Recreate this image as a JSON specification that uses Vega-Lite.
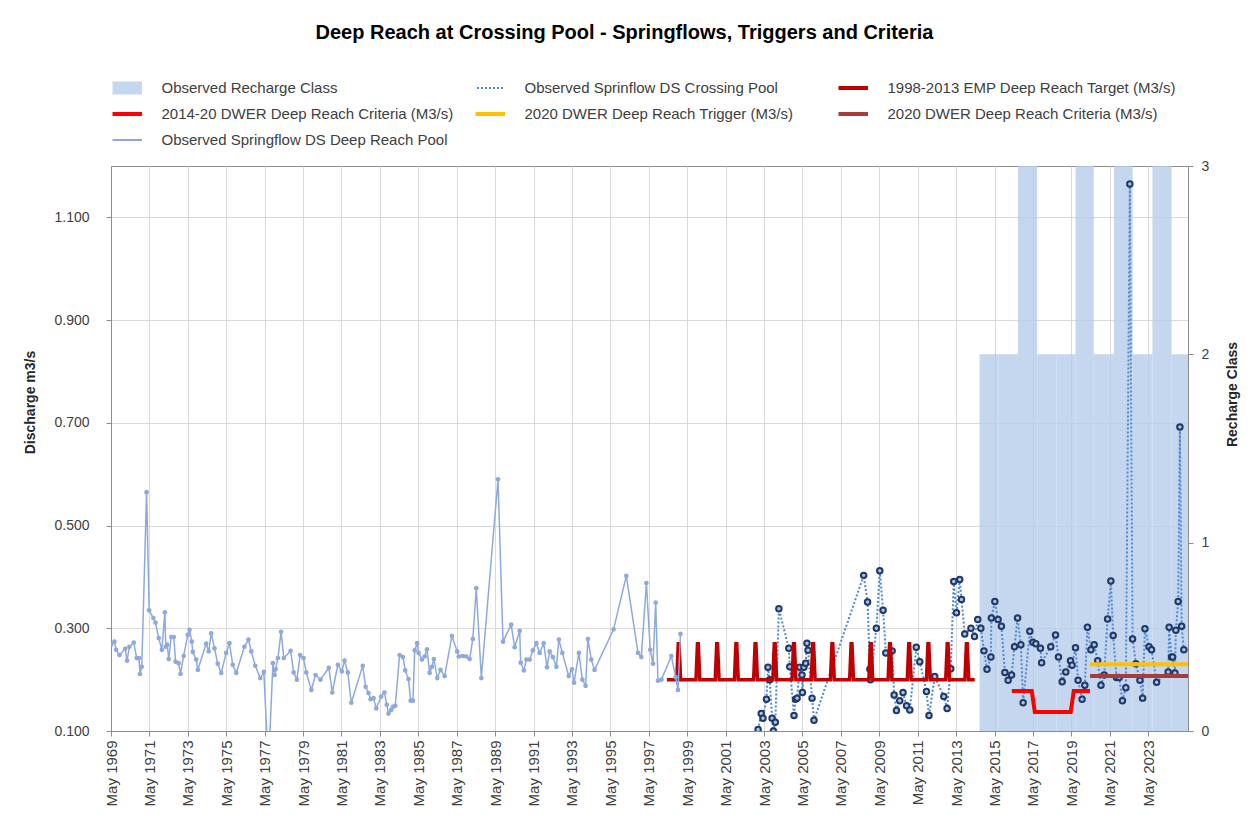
{
"$schema":"https://vega.github.io/schema/vega-lite/v6.json",
"width":1077,"height":565,
"autosize":{"type":"none"},
"padding":{"left":111,"top":166,"right":65,"bottom":87},
"background":"white",
"config":{
 "font":"Liberation Sans",
 "view":{"stroke":"#8C8C8C","strokeWidth":1},
 "axis":{"labelFont":"Liberation Sans","titleFont":"Liberation Sans","labelColor":"#404040","titleColor":"#262626","gridColor":"#D9D9D9","domainColor":"#8C8C8C","tickColor":"#8C8C8C","labelFontSize":14,"titleFontSize":14,"titleFontWeight":"bold"},
 "legend":{"labelFont":"Liberation Sans"}
},
"title":{"text":"Deep Reach at Crossing Pool - Springflows, Triggers and Criteria","fontSize":20,"fontWeight":"bold","color":"#000000","anchor":"middle","dx":-25,"dy":-33,"font":"Liberation Sans"},
"datasets":{
"recharge":[
{"series":"RC","start":"2014-07-20","end":"2015-07-20","cls":2},
{"series":"RC","start":"2015-07-20","end":"2016-07-20","cls":2},
{"series":"RC","start":"2016-07-20","end":"2017-07-20","cls":3},
{"series":"RC","start":"2017-07-20","end":"2018-07-20","cls":2},
{"series":"RC","start":"2018-07-20","end":"2019-07-20","cls":2},
{"series":"RC","start":"2019-07-20","end":"2020-07-01","cls":3},
{"series":"RC","start":"2020-07-01","end":"2021-07-20","cls":2},
{"series":"RC","start":"2021-07-20","end":"2022-07-10","cls":3},
{"series":"RC","start":"2022-07-10","end":"2023-07-20","cls":2},
{"series":"RC","start":"2023-07-20","end":"2024-07-20","cls":3},
{"series":"RC","start":"2024-07-20","end":"2025-07-20","cls":2}
],
"flow":[
{"series":"DR","date":"1969-05-01","value":0.268},{"series":"DR","date":"1969-07-04","value":0.274},{"series":"DR","date":"1969-08-07","value":0.258},{"series":"DR","date":"1969-10-09","value":0.248},
{"series":"DR","date":"1970-01-26","value":0.26},{"series":"DR","date":"1970-03-02","value":0.237},{"series":"DR","date":"1970-04-15","value":0.264},{"series":"DR","date":"1970-07-08","value":0.272},
{"series":"DR","date":"1970-09-02","value":0.242},{"series":"DR","date":"1970-10-15","value":0.242},{"series":"DR","date":"1970-11-02","value":0.211},{"series":"DR","date":"1970-12-07","value":0.225},
{"series":"DR","date":"1971-03-09","value":0.565},{"series":"DR","date":"1971-04-26","value":0.335},{"series":"DR","date":"1971-07-15","value":0.32},{"series":"DR","date":"1971-08-25","value":0.311},
{"series":"DR","date":"1971-10-26","value":0.281},{"series":"DR","date":"1971-12-24","value":0.258},{"series":"DR","date":"1972-02-19","value":0.331},{"series":"DR","date":"1972-03-07","value":0.264},
{"series":"DR","date":"1972-04-04","value":0.268},{"series":"DR","date":"1972-05-03","value":0.24},{"series":"DR","date":"1972-06-20","value":0.283},{"series":"DR","date":"1972-08-07","value":0.283},
{"series":"DR","date":"1972-09-09","value":0.235},{"series":"DR","date":"1972-11-07","value":0.232},{"series":"DR","date":"1972-12-13","value":0.211},{"series":"DR","date":"1973-02-10","value":0.246},
{"series":"DR","date":"1973-04-30","value":0.287},{"series":"DR","date":"1973-06-02","value":0.297},{"series":"DR","date":"1973-07-15","value":0.274},{"series":"DR","date":"1973-08-03","value":0.254},
{"series":"DR","date":"1973-10-08","value":0.239},{"series":"DR","date":"1973-11-07","value":0.219},{"series":"DR","date":"1974-04-15","value":0.27},{"series":"DR","date":"1974-06-02","value":0.255},
{"series":"DR","date":"1974-07-19","value":0.29},{"series":"DR","date":"1974-09-20","value":0.261},{"series":"DR","date":"1974-11-21","value":0.231},{"series":"DR","date":"1975-01-26","value":0.213},
{"series":"DR","date":"1975-04-30","value":0.252},{"series":"DR","date":"1975-07-01","value":0.271},{"series":"DR","date":"1975-09-02","value":0.229},{"series":"DR","date":"1975-11-07","value":0.213},
{"series":"DR","date":"1976-04-11","value":0.264},{"series":"DR","date":"1976-06-27","value":0.278},{"series":"DR","date":"1976-08-18","value":0.255},{"series":"DR","date":"1976-11-03","value":0.227},
{"series":"DR","date":"1977-02-07","value":0.203},{"series":"DR","date":"1977-04-15","value":0.215},{"series":"DR","date":"1977-07-12","value":0.03},{"series":"DR","date":"1977-10-05","value":0.232},
{"series":"DR","date":"1977-11-07","value":0.209},{"series":"DR","date":"1977-11-25","value":0.22},{"series":"DR","date":"1978-01-08","value":0.242},{"series":"DR","date":"1978-03-09","value":0.293},
{"series":"DR","date":"1978-04-30","value":0.242},{"series":"DR","date":"1978-09-06","value":0.256},{"series":"DR","date":"1978-11-03","value":0.214},{"series":"DR","date":"1979-01-04","value":0.2},
{"series":"DR","date":"1979-03-06","value":0.248},{"series":"DR","date":"1979-05-10","value":0.242},{"series":"DR","date":"1979-07-01","value":0.214},{"series":"DR","date":"1979-10-05","value":0.18},
{"series":"DR","date":"1979-12-24","value":0.209},{"series":"DR","date":"1980-03-27","value":0.2},{"series":"DR","date":"1980-09-02","value":0.223},{"series":"DR","date":"1980-11-07","value":0.175},
{"series":"DR","date":"1981-02-21","value":0.229},{"series":"DR","date":"1981-05-07","value":0.216},{"series":"DR","date":"1981-06-27","value":0.237},{"series":"DR","date":"1981-08-29","value":0.214},
{"series":"DR","date":"1981-11-03","value":0.155},{"series":"DR","date":"1982-06-09","value":0.227},{"series":"DR","date":"1982-08-03","value":0.186},{"series":"DR","date":"1982-09-27","value":0.174},
{"series":"DR","date":"1982-11-07","value":0.162},{"series":"DR","date":"1983-01-01","value":0.164},{"series":"DR","date":"1983-02-21","value":0.144},{"series":"DR","date":"1983-05-25","value":0.167},
{"series":"DR","date":"1983-07-26","value":0.175},{"series":"DR","date":"1983-09-09","value":0.151},{"series":"DR","date":"1983-10-12","value":0.134},{"series":"DR","date":"1983-12-02","value":0.141},
{"series":"DR","date":"1984-01-04","value":0.147},{"series":"DR","date":"1984-02-17","value":0.149},{"series":"DR","date":"1984-05-10","value":0.248},{"series":"DR","date":"1984-07-12","value":0.244},
{"series":"DR","date":"1984-08-25","value":0.218},{"series":"DR","date":"1984-10-26","value":0.201},{"series":"DR","date":"1984-12-06","value":0.159},{"series":"DR","date":"1985-01-19","value":0.159},
{"series":"DR","date":"1985-02-21","value":0.257},{"series":"DR","date":"1985-04-08","value":0.271},{"series":"DR","date":"1985-05-07","value":0.252},{"series":"DR","date":"1985-07-08","value":0.239},
{"series":"DR","date":"1985-08-29","value":0.245},{"series":"DR","date":"1985-10-12","value":0.259},{"series":"DR","date":"1985-12-02","value":0.213},{"series":"DR","date":"1986-01-15","value":0.225},
{"series":"DR","date":"1986-02-21","value":0.24},{"series":"DR","date":"1986-04-26","value":0.203},{"series":"DR","date":"1986-06-27","value":0.219},{"series":"DR","date":"1986-09-13","value":0.207},
{"series":"DR","date":"1987-01-30","value":0.285},{"series":"DR","date":"1987-05-10","value":0.255},{"series":"DR","date":"1987-06-09","value":0.245},{"series":"DR","date":"1987-08-25","value":0.246},
{"series":"DR","date":"1987-10-30","value":0.245},{"series":"DR","date":"1988-01-01","value":0.24},{"series":"DR","date":"1988-03-02","value":0.279},{"series":"DR","date":"1988-05-07","value":0.378},
{"series":"DR","date":"1988-08-11","value":0.203},{"series":"DR","date":"1989-06-24","value":0.59},{"series":"DR","date":"1989-09-27","value":0.274},{"series":"DR","date":"1990-03-02","value":0.307},
{"series":"DR","date":"1990-05-07","value":0.263},{"series":"DR","date":"1990-08-11","value":0.295},{"series":"DR","date":"1990-08-29","value":0.233},{"series":"DR","date":"1990-10-30","value":0.218},
{"series":"DR","date":"1990-12-16","value":0.239},{"series":"DR","date":"1991-02-17","value":0.239},{"series":"DR","date":"1991-04-19","value":0.257},{"series":"DR","date":"1991-06-24","value":0.271},
{"series":"DR","date":"1991-08-25","value":0.252},{"series":"DR","date":"1991-11-10","value":0.271},{"series":"DR","date":"1992-01-12","value":0.224},{"series":"DR","date":"1992-03-02","value":0.255},
{"series":"DR","date":"1992-05-03","value":0.244},{"series":"DR","date":"1992-07-08","value":0.225},{"series":"DR","date":"1992-08-25","value":0.278},{"series":"DR","date":"1992-10-30","value":0.252},
{"series":"DR","date":"1993-02-28","value":0.207},{"series":"DR","date":"1993-04-30","value":0.22},{"series":"DR","date":"1993-06-09","value":0.194},{"series":"DR","date":"1993-09-09","value":0.252},
{"series":"DR","date":"1993-11-14","value":0.2},{"series":"DR","date":"1994-01-15","value":0.188},{"series":"DR","date":"1994-02-28","value":0.279},{"series":"DR","date":"1994-05-03","value":0.239},
{"series":"DR","date":"1994-07-04","value":0.219},{"series":"DR","date":"1995-07-01","value":0.298},{"series":"DR","date":"1996-02-28","value":0.402},{"series":"DR","date":"1996-10-08","value":0.252},
{"series":"DR","date":"1996-12-09","value":0.244},{"series":"DR","date":"1997-03-16","value":0.388},{"series":"DR","date":"1997-05-28","value":0.258},{"series":"DR","date":"1997-07-19","value":0.231},
{"series":"DR","date":"1997-09-09","value":0.35},{"series":"DR","date":"1997-10-22","value":0.198},{"series":"DR","date":"1997-12-27","value":0.2},{"series":"DR","date":"1998-07-04","value":0.246},
{"series":"DR","date":"1998-09-23","value":0.205},{"series":"DR","date":"1998-11-07","value":0.18},{"series":"DR","date":"1998-12-24","value":0.289},
{"series":"CP","date":"2003-01-08","value":0.103},{"series":"CP","date":"2003-03-09","value":0.134},{"series":"CP","date":"2003-04-11","value":0.125},{"series":"CP","date":"2003-06-16","value":0.162},
{"series":"CP","date":"2003-07-15","value":0.224},{"series":"CP","date":"2003-08-18","value":0.2},{"series":"CP","date":"2003-10-01","value":0.125},{"series":"CP","date":"2003-10-26","value":0.1},
{"series":"CP","date":"2003-12-02","value":0.117},{"series":"CP","date":"2004-02-07","value":0.338},{"series":"CP","date":"2004-08-14","value":0.261},{"series":"CP","date":"2004-09-02","value":0.225},
{"series":"CP","date":"2004-11-21","value":0.13},{"series":"CP","date":"2004-12-20","value":0.162},{"series":"CP","date":"2005-01-19","value":0.164},{"series":"CP","date":"2005-03-09","value":0.224},
{"series":"CP","date":"2005-04-22","value":0.209},{"series":"CP","date":"2005-04-30","value":0.175},{"series":"CP","date":"2005-05-28","value":0.224},{"series":"CP","date":"2005-07-01","value":0.232},
{"series":"CP","date":"2005-07-26","value":0.271},{"series":"CP","date":"2005-08-14","value":0.257},{"series":"CP","date":"2005-10-30","value":0.164},{"series":"CP","date":"2005-12-06","value":0.121},
{"series":"CP","date":"2008-07-08","value":0.403},{"series":"CP","date":"2008-09-20","value":0.351},{"series":"CP","date":"2008-11-03","value":0.22},{"series":"CP","date":"2008-11-14","value":0.2},
{"series":"CP","date":"2009-03-06","value":0.3},{"series":"CP","date":"2009-05-10","value":0.412},{"series":"CP","date":"2009-07-12","value":0.335},{"series":"CP","date":"2009-09-02","value":0.252},
{"series":"CP","date":"2010-01-01","value":0.256},{"series":"CP","date":"2010-02-07","value":0.17},{"series":"CP","date":"2010-03-23","value":0.14},{"series":"CP","date":"2010-05-25","value":0.159},
{"series":"CP","date":"2010-07-26","value":0.175},{"series":"CP","date":"2010-10-01","value":0.149},{"series":"CP","date":"2010-12-02","value":0.141},{"series":"CP","date":"2011-04-04","value":0.263},
{"series":"CP","date":"2011-06-09","value":0.235},{"series":"CP","date":"2011-10-15","value":0.177},{"series":"CP","date":"2011-12-02","value":0.13},{"series":"CP","date":"2012-03-20","value":0.206},
{"series":"CP","date":"2012-09-09","value":0.167},{"series":"CP","date":"2012-11-10","value":0.144},{"series":"CP","date":"2013-01-19","value":0.221},{"series":"CP","date":"2013-03-16","value":0.391},
{"series":"CP","date":"2013-05-07","value":0.33},{"series":"CP","date":"2013-07-08","value":0.395},{"series":"CP","date":"2013-08-11","value":0.356},{"series":"CP","date":"2013-10-12","value":0.289},
{"series":"CP","date":"2014-02-07","value":0.3},{"series":"CP","date":"2014-04-15","value":0.284},{"series":"CP","date":"2014-06-16","value":0.317},{"series":"CP","date":"2014-08-14","value":0.3},
{"series":"CP","date":"2014-10-12","value":0.256},{"series":"CP","date":"2014-12-09","value":0.22},{"series":"CP","date":"2015-02-21","value":0.244},{"series":"CP","date":"2015-03-02","value":0.32},
{"series":"CP","date":"2015-05-07","value":0.352},{"series":"CP","date":"2015-07-08","value":0.317},{"series":"CP","date":"2015-09-09","value":0.304},{"series":"CP","date":"2015-11-14","value":0.214},
{"series":"CP","date":"2016-01-15","value":0.199},{"series":"CP","date":"2016-03-20","value":0.209},{"series":"CP","date":"2016-05-15","value":0.264},{"series":"CP","date":"2016-07-12","value":0.32},
{"series":"CP","date":"2016-09-13","value":0.268},{"series":"CP","date":"2016-10-26","value":0.155},{"series":"CP","date":"2017-03-02","value":0.294},{"series":"CP","date":"2017-04-30","value":0.273},
{"series":"CP","date":"2017-06-24","value":0.27},{"series":"CP","date":"2017-09-20","value":0.261},{"series":"CP","date":"2017-10-12","value":0.233},{"series":"CP","date":"2018-04-04","value":0.264},
{"series":"CP","date":"2018-07-04","value":0.287},{"series":"CP","date":"2018-08-29","value":0.244},{"series":"CP","date":"2018-11-07","value":0.196},{"series":"CP","date":"2019-01-15","value":0.215},
{"series":"CP","date":"2019-04-15","value":0.237},{"series":"CP","date":"2019-05-15","value":0.228},{"series":"CP","date":"2019-07-19","value":0.262},{"series":"CP","date":"2019-09-06","value":0.199},
{"series":"CP","date":"2019-11-21","value":0.162},{"series":"CP","date":"2020-01-12","value":0.189},{"series":"CP","date":"2020-03-02","value":0.302},{"series":"CP","date":"2020-05-07","value":0.258},
{"series":"CP","date":"2020-07-08","value":0.268},{"series":"CP","date":"2020-09-13","value":0.237},{"series":"CP","date":"2020-11-14","value":0.189},{"series":"CP","date":"2021-01-15","value":0.209},
{"series":"CP","date":"2021-03-20","value":0.318},{"series":"CP","date":"2021-05-21","value":0.392},{"series":"CP","date":"2021-07-04","value":0.286},{"series":"CP","date":"2021-09-06","value":0.204},
{"series":"CP","date":"2021-10-26","value":0.204},{"series":"CP","date":"2021-12-27","value":0.159},{"series":"CP","date":"2022-03-02","value":0.184},{"series":"CP","date":"2022-05-17","value":1.165},
{"series":"CP","date":"2022-07-08","value":0.279},{"series":"CP","date":"2022-09-09","value":0.231},{"series":"CP","date":"2022-11-25","value":0.199},{"series":"CP","date":"2023-01-15","value":0.164},
{"series":"CP","date":"2023-02-28","value":0.299},{"series":"CP","date":"2023-05-17","value":0.264},{"series":"CP","date":"2023-07-04","value":0.258},{"series":"CP","date":"2023-10-08","value":0.195},
{"series":"CP","date":"2024-05-15","value":0.215},{"series":"CP","date":"2024-06-02","value":0.302},{"series":"CP","date":"2024-07-19","value":0.244},{"series":"CP","date":"2024-08-07","value":0.244},
{"series":"CP","date":"2024-09-20","value":0.213},{"series":"CP","date":"2024-10-08","value":0.296},{"series":"CP","date":"2024-11-21","value":0.352},{"series":"CP","date":"2024-12-24","value":0.692},
{"series":"CP","date":"2025-01-26","value":0.304},{"series":"CP","date":"2025-03-09","value":0.258},
{"series":"EMP","date":"1998-04-10","value":0.2},
{"series":"EMP","date":"1998-10-15","value":0.2},{"series":"EMP","date":"1998-11-12","value":0.27},{"series":"EMP","date":"1998-11-28","value":0.27},{"series":"EMP","date":"1998-12-27","value":0.2},
{"series":"EMP","date":"1999-10-15","value":0.2},{"series":"EMP","date":"1999-11-12","value":0.27},{"series":"EMP","date":"1999-11-28","value":0.27},{"series":"EMP","date":"1999-12-27","value":0.2},
{"series":"EMP","date":"2000-10-15","value":0.2},{"series":"EMP","date":"2000-11-12","value":0.27},{"series":"EMP","date":"2000-11-28","value":0.27},{"series":"EMP","date":"2000-12-27","value":0.2},
{"series":"EMP","date":"2001-10-15","value":0.2},{"series":"EMP","date":"2001-11-12","value":0.27},{"series":"EMP","date":"2001-11-28","value":0.27},{"series":"EMP","date":"2001-12-27","value":0.2},
{"series":"EMP","date":"2002-10-15","value":0.2},{"series":"EMP","date":"2002-11-12","value":0.27},{"series":"EMP","date":"2002-11-28","value":0.27},{"series":"EMP","date":"2002-12-27","value":0.2},
{"series":"EMP","date":"2003-10-15","value":0.2},{"series":"EMP","date":"2003-11-12","value":0.27},{"series":"EMP","date":"2003-11-28","value":0.27},{"series":"EMP","date":"2003-12-27","value":0.2},
{"series":"EMP","date":"2004-10-15","value":0.2},{"series":"EMP","date":"2004-11-12","value":0.27},{"series":"EMP","date":"2004-11-28","value":0.27},{"series":"EMP","date":"2004-12-27","value":0.2},
{"series":"EMP","date":"2005-10-15","value":0.2},{"series":"EMP","date":"2005-11-12","value":0.27},{"series":"EMP","date":"2005-11-28","value":0.27},{"series":"EMP","date":"2005-12-27","value":0.2},
{"series":"EMP","date":"2006-10-15","value":0.2},{"series":"EMP","date":"2006-11-12","value":0.27},{"series":"EMP","date":"2006-11-28","value":0.27},{"series":"EMP","date":"2006-12-27","value":0.2},
{"series":"EMP","date":"2007-10-15","value":0.2},{"series":"EMP","date":"2007-11-12","value":0.27},{"series":"EMP","date":"2007-11-28","value":0.27},{"series":"EMP","date":"2007-12-27","value":0.2},
{"series":"EMP","date":"2008-10-15","value":0.2},{"series":"EMP","date":"2008-11-12","value":0.27},{"series":"EMP","date":"2008-11-28","value":0.27},{"series":"EMP","date":"2008-12-27","value":0.2},
{"series":"EMP","date":"2009-10-15","value":0.2},{"series":"EMP","date":"2009-11-12","value":0.27},{"series":"EMP","date":"2009-11-28","value":0.27},{"series":"EMP","date":"2009-12-27","value":0.2},
{"series":"EMP","date":"2010-10-15","value":0.2},{"series":"EMP","date":"2010-11-12","value":0.27},{"series":"EMP","date":"2010-11-28","value":0.27},{"series":"EMP","date":"2010-12-27","value":0.2},
{"series":"EMP","date":"2011-10-15","value":0.2},{"series":"EMP","date":"2011-11-12","value":0.27},{"series":"EMP","date":"2011-11-28","value":0.27},{"series":"EMP","date":"2011-12-27","value":0.2},
{"series":"EMP","date":"2012-10-15","value":0.2},{"series":"EMP","date":"2012-11-12","value":0.27},{"series":"EMP","date":"2012-11-28","value":0.27},{"series":"EMP","date":"2012-12-27","value":0.2},
{"series":"EMP","date":"2013-10-15","value":0.2},{"series":"EMP","date":"2013-11-12","value":0.27},{"series":"EMP","date":"2013-11-28","value":0.27},{"series":"EMP","date":"2013-12-27","value":0.2},
{"series":"EMP","date":"2014-04-20","value":0.2},
{"series":"C1420","date":"2016-03-25","value":0.178},{"series":"C1420","date":"2017-04-08","value":0.178},{"series":"C1420","date":"2017-06-05","value":0.137},
{"series":"C1420","date":"2019-04-19","value":0.137},{"series":"C1420","date":"2019-06-16","value":0.178},{"series":"C1420","date":"2020-04-20","value":0.178},
{"series":"T20","date":"2020-04-20","value":0.23},{"series":"T20","date":"2025-05-27","value":0.23},
{"series":"C20","date":"2020-04-20","value":0.207},{"series":"C20","date":"2025-05-27","value":0.207}
]
},
"layer":[
{
 "data":{"name":"recharge"},
 "mark":{"type":"rect","opacity":0.8,"clip":true},
 "encoding":{
  "x":{"field":"start","type":"temporal",
   "scale":{"domain":[-21168000000,1748304000000],"nice":false},
   "axis":{"title":null,"format":"%b %Y","labelAngle":270,"grid":true,"tickSize":5,"labelPadding":4,"labelOverlap":false,"labelFlush":false,"tickCount":60,"labelFontSize":15,
    "values":[-21168000000,41904000000,105062400000,168134400000,231292800000,294364800000,357523200000,420595200000,483753600000,546825600000,609984000000,673056000000,736214400000,799286400000,862444800000,925516800000,988675200000,1051747200000,1114905600000,1177977600000,1241136000000,1304208000000,1367366400000,1430438400000,1493596800000,1556668800000,1619827200000,1682899200000]}},
  "x2":{"field":"end"},
  "y":{"field":"cls","type":"quantitative","scale":{"domain":[0,3],"nice":false},
   "axis":{"orient":"right","values":[0,1,2,3],"format":"d","grid":false,"tickSize":5,"labelPadding":8,"title":"Recharge Class","titleAngle":270,"titleX":44,"titleY":228,"titleAlign":"center","titleBaseline":"middle"}},
  "y2":{"datum":0},
  "color":{"field":"series","type":"nominal",
   "scale":{"domain":["RC","CP","EMP","C1420","T20","C20","DR"],"range":["#B7CDEB","#5087CF","#C00000","#FF0000","#FFC000","#A83C3A","#8EA9DB"]},
   "legend":{"orient":"none","direction":"horizontal","legendX":1.5,"legendY":-86,"columns":3,"gridAlign":"all","title":null,"symbolSize":1936,"symbolType":"M-1,0H1","symbolStrokeWidth":4,"symbolOpacity":1,"clipHeight":16,"rowPadding":10,"columnPadding":22,"labelFontSize":15,"labelOffset":34,"labelLimit":400,"labelColor":"#404040","padding":0,
    "values":["RC","CP","EMP","C1420","T20","C20","DR"],
    "labelExpr":"datum.value==='RC'?'Observed Recharge Class':datum.value==='CP'?'Observed Sprinflow DS Crossing Pool':datum.value==='EMP'?'1998-2013 EMP Deep Reach Target (M3/s)':datum.value==='C1420'?'2014-20 DWER Deep Reach Criteria (M3/s)':datum.value==='T20'?'2020 DWER Deep Reach Trigger (M3/s)':datum.value==='C20'?'2020 DWER Deep Reach Criteria (M3/s)':'Observed Springflow DS Deep Reach Pool'",
    "encode":{"symbols":{
     "update":{
      "strokeWidth":{"signal":"datum.value==='RC'?13:(datum.value==='DR'||datum.value==='CP')?2:4"},
      "strokeDash":{"signal":"datum.value==='CP'?[2,2]:[1,0]"},
      "strokeOpacity":{"signal":"datum.value==='RC'?0.8:1"}
     }
    }}}
  }
 }
},
{
 "layer":[
  {"data":{"name":"flow"},"transform":[{"filter":"datum.series==='CP'"}],
   "mark":{"type":"line","strokeDash":[2,2],"strokeWidth":2,"clip":true},
   "encoding":{"x":{"field":"date","type":"temporal"},
    "y":{"field":"value","type":"quantitative","scale":{"domain":[0.1,1.2],"nice":false,"zero":false},
     "axis":{"orient":"left","values":[0.1,0.3,0.5,0.7,0.9,1.1],"format":".3f","grid":true,"tickSize":5,"labelPadding":17,"title":"Discharge m3/s","titleAngle":270,"titleX":-81,"titleY":236,"titleAlign":"center","titleBaseline":"middle"}},
    "color":{"field":"series","type":"nominal"}}},
  {"data":{"name":"flow"},"transform":[{"filter":"datum.series==='CP'"}],
   "mark":{"type":"point","shape":"circle","filled":true,"size":30,"fill":"#A9C4EB","stroke":"#1F3864","strokeWidth":2,"opacity":1,"clip":true},
   "encoding":{"x":{"field":"date","type":"temporal"},"y":{"field":"value","type":"quantitative"}}},
  {"data":{"name":"flow"},"transform":[{"filter":"datum.series==='EMP'"}],
   "mark":{"type":"line","strokeWidth":3.5,"clip":true},
   "encoding":{"x":{"field":"date","type":"temporal"},"y":{"field":"value","type":"quantitative"},"color":{"field":"series","type":"nominal"}}},
  {"data":{"name":"flow"},"transform":[{"filter":"datum.series==='C1420'"}],
   "mark":{"type":"line","strokeWidth":4,"clip":true},
   "encoding":{"x":{"field":"date","type":"temporal"},"y":{"field":"value","type":"quantitative"},"color":{"field":"series","type":"nominal"}}},
  {"data":{"name":"flow"},"transform":[{"filter":"datum.series==='T20'"}],
   "mark":{"type":"line","strokeWidth":4,"clip":true},
   "encoding":{"x":{"field":"date","type":"temporal"},"y":{"field":"value","type":"quantitative"},"color":{"field":"series","type":"nominal"}}},
  {"data":{"name":"flow"},"transform":[{"filter":"datum.series==='C20'"}],
   "mark":{"type":"line","strokeWidth":4,"clip":true},
   "encoding":{"x":{"field":"date","type":"temporal"},"y":{"field":"value","type":"quantitative"},"color":{"field":"series","type":"nominal"}}},
  {"data":{"name":"flow"},"transform":[{"filter":"datum.series==='DR'"}],
   "mark":{"type":"line","strokeWidth":1.5,"clip":true},
   "encoding":{"x":{"field":"date","type":"temporal"},"y":{"field":"value","type":"quantitative"},"color":{"field":"series","type":"nominal"}}},
  {"data":{"name":"flow"},"transform":[{"filter":"datum.series==='DR'"}],
   "mark":{"type":"point","shape":"circle","filled":true,"size":22,"color":"#8EA9DB","opacity":1,"clip":true},
   "encoding":{"x":{"field":"date","type":"temporal"},"y":{"field":"value","type":"quantitative"}}}
 ]
}
],
"resolve":{"scale":{"y":"independent"}}
}
